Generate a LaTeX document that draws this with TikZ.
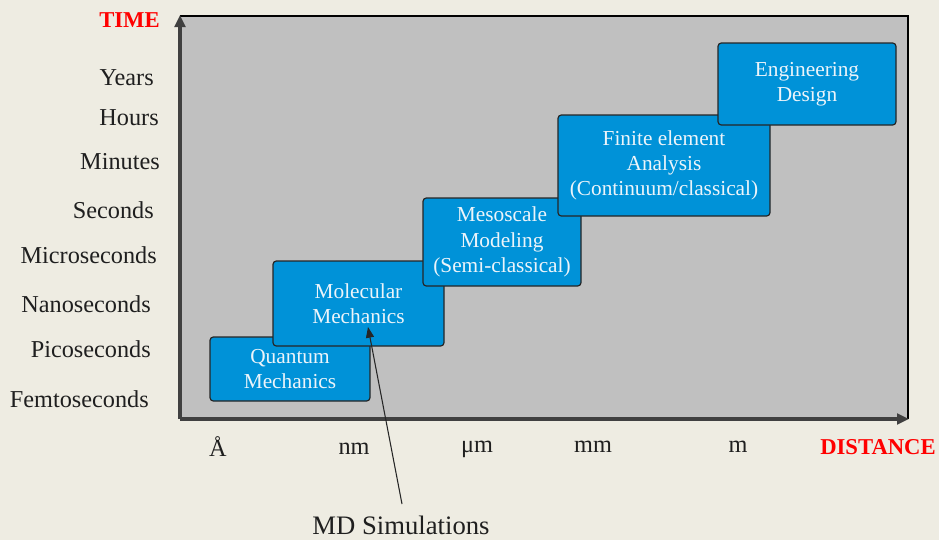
\documentclass[tikz,border=0pt]{standalone}
\usepackage{fontspec}
\setmainfont{Liberation Serif}
\usetikzlibrary{arrows.meta}
\definecolor{bgcream}{RGB}{238,236,226}
\definecolor{plotgray}{RGB}{192,192,192}
\definecolor{boxblue}{RGB}{0,146,216}
\definecolor{axisgray}{RGB}{64,64,64}
\definecolor{labelred}{RGB}{255,0,0}
\definecolor{boxtext}{RGB}{236,244,250}
\tikzset{
  scalebox/.style = {draw=black!85, line width=0.9pt, fill=boxblue, rounded corners=2.5pt,
                     text=boxtext, font=\fontsize{16}{19}\selectfont, align=center, inner sep=0pt,
                     execute at begin node={\rule{0pt}{17pt}}},
  ticklabel/.style = {font=\fontsize{18.2}{21}\selectfont, text=black!88, inner sep=0pt},
  axislabel/.style = {font=\bfseries\fontsize{17}{20}\selectfont, text=labelred, inner sep=0pt},
}
\begin{document}
\begin{tikzpicture}[x=0.75pt, y=-0.75pt]
%% canvas
\useasboundingbox [fill=bgcream] (0,0) rectangle (939,540);
%%
%% plot area
\fill [plotgray] (180,16) rectangle (908,419);
\draw [black, line width=1.1pt] (180,16) -- (908,16) -- (908,419);
\coordinate (origin) at (180,419);
\coordinate (ytip) at (180,15);
\coordinate (xtip) at (909,419);
\draw [axisgray, line width=2.4pt, -{Triangle[length=9pt, width=8pt]}] (origin) -- (ytip);
\draw [axisgray, line width=2.4pt, -{Triangle[length=9pt, width=8pt]}] (origin) -- (xtip);
%%
%% boxes (drawn bottom-left to top-right, each over the last)
\node [scalebox, minimum width=120pt, minimum height=48pt] (quantum) at (290,369) {Quantum\\Mechanics};
\node [scalebox, minimum width=128.25pt, minimum height=63.75pt] (molecular) at (358.5,303.5) {Molecular\\Mechanics};
\node [scalebox, minimum width=118.5pt, minimum height=66pt] (meso) at (502,242) {Mesoscale\\Modeling\\(Semi-classical)};
\node [scalebox, minimum width=159pt, minimum height=75.75pt] (finite) at (664,165.5) {Finite element\\Analysis\\(Continuum/classical)};
\node [scalebox, minimum width=133.5pt, minimum height=61.5pt] (engineering) at (807,84) {Engineering\\Design};
%%
%% time axis
\node [axislabel, anchor=east] (time) at (160,20) {TIME};
\node [ticklabel, anchor=east] (years) at (154,78) {Years};
\node [ticklabel, anchor=east] (hours) at (159,118) {Hours};
\node [ticklabel, anchor=east] (minutes) at (160,162) {Minutes};
\node [ticklabel, anchor=east] (seconds) at (154,210) {Seconds};
\node [ticklabel, anchor=east] (micro) at (157,255) {Microseconds};
\node [ticklabel, anchor=east] (nano) at (151,304) {Nanoseconds};
\node [ticklabel, anchor=east] (pico) at (151,349) {Picoseconds};
\node [ticklabel, anchor=east] (femto) at (149,399) {Femtoseconds};
%%
%% distance axis
\node [ticklabel] (angstrom) at (218,447) {Å};
\node [ticklabel] (nm) at (354,449) {nm};
\node [ticklabel] (um) at (477,449) {μm};
\node [ticklabel] (mm) at (593,447) {mm};
\node [ticklabel] (m) at (738,447) {m};
\node [axislabel, anchor=east] (distance) at (936,447) {DISTANCE};
%%
%% MD simulations
\node [ticklabel, font=\fontsize{20}{23}\selectfont] (md) at (401,525) {MD Simulations};
\coordinate (mdtip) at (368,327);
\draw [black!85, line width=0.8pt, -{Triangle[length=8pt, width=6pt]}] (402,504) -- (mdtip);
%%
\end{tikzpicture}
\end{document}
